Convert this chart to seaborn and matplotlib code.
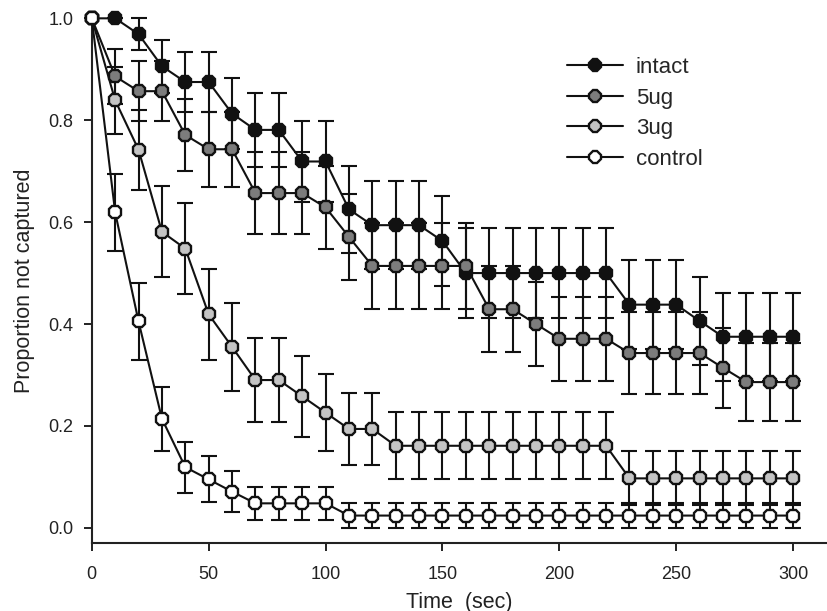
import numpy as np
import pandas as pd
import seaborn as sns
import matplotlib.pyplot as plt

# Data (proportion of animals not yet captured)
time = list(range(0, 310, 10))

intact = [1.0, 1.0, 0.969, 0.906, 0.875, 0.875, 0.813, 0.781, 0.781, 0.719, 0.719,
          0.625, 0.594, 0.594, 0.594, 0.563, 0.5, 0.5, 0.5, 0.5, 0.5, 0.5, 0.5,
          0.438, 0.438, 0.438, 0.406, 0.375, 0.375, 0.375, 0.375]
intact_err = [0, 0, 0.031, 0.052, 0.058, 0.058, 0.069, 0.073, 0.073, 0.079, 0.079,
              0.086, 0.087, 0.087, 0.087, 0.088, 0.088, 0.088, 0.088, 0.088, 0.088, 0.088, 0.088,
              0.088, 0.088, 0.088, 0.087, 0.086, 0.086, 0.086, 0.086]

ug5 = [1.0, 0.886, 0.857, 0.857, 0.771, 0.743, 0.743, 0.657, 0.657, 0.657, 0.629,
       0.571, 0.514, 0.514, 0.514, 0.514, 0.514, 0.429, 0.429, 0.4, 0.371, 0.371, 0.371,
       0.343, 0.343, 0.343, 0.343, 0.314, 0.286, 0.286, 0.286]
ug5_err = [0, 0.054, 0.059, 0.059, 0.071, 0.074, 0.074, 0.080, 0.080, 0.080, 0.082,
           0.084, 0.085, 0.085, 0.085, 0.085, 0.085, 0.084, 0.084, 0.083, 0.082, 0.082, 0.082,
           0.080, 0.080, 0.080, 0.080, 0.078, 0.076, 0.076, 0.076]

ug3 = [1.0, 0.839, 0.742, 0.581, 0.548, 0.419, 0.355, 0.29, 0.29, 0.258, 0.226,
       0.194, 0.194, 0.161, 0.161, 0.161, 0.161, 0.161, 0.161, 0.161, 0.161, 0.161, 0.161,
       0.097, 0.097, 0.097, 0.097, 0.097, 0.097, 0.097, 0.097]
ug3_err = [0, 0.066, 0.079, 0.089, 0.089, 0.089, 0.086, 0.082, 0.082, 0.079, 0.075,
           0.071, 0.071, 0.066, 0.066, 0.066, 0.066, 0.066, 0.066, 0.066, 0.066, 0.066, 0.066,
           0.053, 0.053, 0.053, 0.053, 0.053, 0.053, 0.053, 0.053]

control = [1.0, 0.619, 0.405, 0.214, 0.119, 0.095, 0.071, 0.048, 0.048, 0.048, 0.048,
           0.024, 0.024, 0.024, 0.024, 0.024, 0.024, 0.024, 0.024, 0.024, 0.024, 0.024, 0.024,
           0.024, 0.024, 0.024, 0.024, 0.024, 0.024, 0.024, 0.024]
control_err = [0, 0.075, 0.076, 0.063, 0.05, 0.045, 0.040, 0.033, 0.033, 0.033, 0.033,
               0.024, 0.024, 0.024, 0.024, 0.024, 0.024, 0.024, 0.024, 0.024, 0.024, 0.024, 0.024,
               0.024, 0.024, 0.024, 0.024, 0.024, 0.024, 0.024, 0.024]

labels = ['intact', '5ug', '3ug', 'control']
faces = ['#111111', '#7c7c7c', '#c4c4c4', '#ffffff']

df = pd.DataFrame({'time': time * 4,
                   'prop': intact + ug5 + ug3 + control,
                   'err': intact_err + ug5_err + ug3_err + control_err,
                   'group': np.repeat(labels, len(time))})

sns.set_style('ticks')
plt.rcParams['font.family'] = ['Liberation Sans', 'DejaVu Sans']

fig = plt.figure(figsize=(8.27, 6.11), dpi=100)
ax = fig.add_axes([0.111, 0.112, 0.889, 0.858])

for lab, fc in zip(labels, faces):
    d = df[df['group'] == lab]
    ax.errorbar(d['time'][1:], d['prop'][1:], yerr=d['err'][1:], fmt='none',
                ecolor='#111111', elinewidth=1.5, capsize=5.5, capthick=1.5,
                zorder=2, clip_on=False)
    sns.lineplot(data=d, x='time', y='prop', ax=ax, color='#111111', lw=1.5,
                 marker='8', markersize=10, markerfacecolor=fc,
                 markeredgecolor='#111111', markeredgewidth=1.7,
                 label=lab, zorder=3, clip_on=False)

ax.set_xlim(0, 314.5)
ax.set_ylim(-0.029, 1.0)
ax.set_xticks(range(0, 301, 50))
ax.set_yticks([0.0, 0.2, 0.4, 0.6, 0.8, 1.0])
ax.set_yticklabels(['0.0', '0.2', '0.4', '0.6', '0.8', '1.0'])
ax.tick_params(labelsize=13, length=6, width=1.4, colors='#222222', pad=7)
ax.tick_params(axis='x', pad=11)
for s in ['left', 'bottom']:
    ax.spines[s].set_linewidth(1.5)
    ax.spines[s].set_color('#222222')
sns.despine(ax=ax)

ax.set_xlabel('Time  (sec)', fontsize=15.5, color='#222222', labelpad=6)
ax.set_ylabel('Proportion not captured', fontsize=15.5, color='#222222', labelpad=10)

ax.legend(loc='upper left', bbox_to_anchor=(567 / 827, 1 - 57 / 611),
          bbox_transform=fig.transFigure, frameon=False, borderpad=0,
          borderaxespad=0, fontsize=16, handlelength=2.5, labelspacing=0.43,
          handletextpad=0.6, markerscale=0.9)

plt.savefig('out.png', dpi=100)
plt.close()
